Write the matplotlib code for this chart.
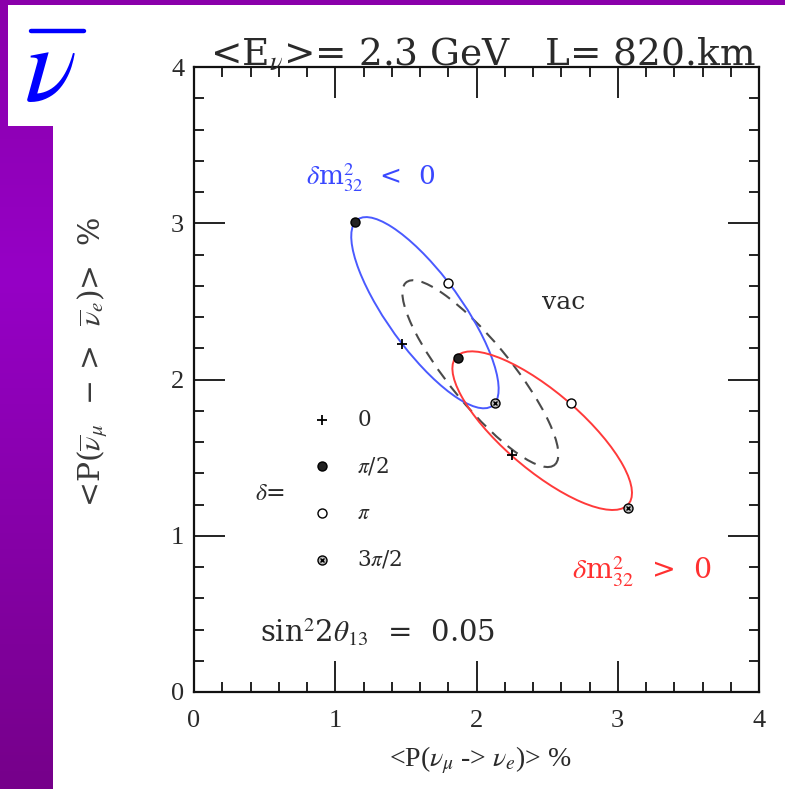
import numpy as np
import matplotlib
matplotlib.use('Agg')
import matplotlib.pyplot as plt
import matplotlib.ticker as mticker
from matplotlib.colors import LinearSegmentedColormap
from matplotlib.patches import Rectangle, Circle
from matplotlib.transforms import Affine2D
from matplotlib.lines import Line2D

plt.rcParams['font.family'] = ['Liberation Serif', 'DejaVu Serif']
plt.rcParams['mathtext.fontset'] = 'stix'

# CP-phase points on each trajectory, in the order delta = 0, pi/2, pi, 3pi/2
blue_x = [1.47, 1.14, 1.80, 2.13]
blue_y = [2.23, 3.01, 2.62, 1.85]
red_x = [2.25, 1.87, 2.67, 3.07]
red_y = [1.52, 2.14, 1.85, 1.18]
vac_x = [1.87, 1.50, 2.18, 2.56]
vac_y = [1.89, 2.62, 2.18, 1.46]

delta_labels = ['0', r'$\pi$/2', r'$\pi$', r'3$\pi$/2']
key_x = 0.906
key_y = [1.74, 1.446, 1.146, 0.845]

TXT = '#2a2a2a'
WIDE = 'DejaVu Serif'


def draw_marker(ax, x, y, i, ms=6.5, z=5):
    if i == 0:
        ax.plot(x, y, '+', color='k', ms=ms + 1, mew=1.3, zorder=z)
    elif i == 1:
        ax.plot(x, y, 'o', color='k', mfc='#222222', ms=ms, mew=1.0, zorder=z)
    elif i == 2:
        ax.plot(x, y, 'o', color='k', mfc='white', ms=ms, mew=1.0, zorder=z)
    else:
        ax.plot(x, y, 'o', color='k', mfc='#bbbbbb', ms=ms, mew=1.0, zorder=z)
        ax.plot(x, y, 'x', color='k', ms=ms * 0.55, mew=1.0, zorder=z + 1)


def add_trajectory(ax, px, py, markers=True, **kw):
    # ellipse through the four points: unit circle mapped by conjugate half-diameters
    cx, cy = np.mean(px), np.mean(py)
    ax_, ay_ = (px[0] - px[2]) / 2, (py[0] - py[2]) / 2
    bx, by = (px[1] - px[3]) / 2, (py[1] - py[3]) / 2
    tr = Affine2D(np.array([[ax_, bx, cx], [ay_, by, cy], [0, 0, 1]])) + ax.transData
    ax.add_patch(Circle((0, 0), 1, transform=tr, fill=False, **kw))
    if markers:
        for i in range(4):
            draw_marker(ax, px[i], py[i], i)


fig = plt.figure(figsize=(7.85, 7.89), dpi=100)

# purple slide background with white panel
bg = fig.add_axes((0, 0, 1, 1), zorder=-10)
grad_cmap = LinearSegmentedColormap.from_list(
    'slide', [(0.0, '#76008a'), (0.65, '#9600c6'), (1.0, '#8a00aa')])
bg.imshow(np.linspace(0, 1, 256).reshape(-1, 1), cmap=grad_cmap, aspect='auto',
          extent=(0, 1, 0, 1), origin='lower')
bg.add_patch(Rectangle((8 / 785, 663 / 789), 1, (126 - 5) / 789, color='white', lw=0))
bg.add_patch(Rectangle((53 / 785, 0), 1, 663 / 789, color='white', lw=0))
bg.set_xlim(0, 1)
bg.set_ylim(0, 1)
bg.axis('off')

# nu-bar symbol in the corner
fig.text(24 / 785, 1 - 100 / 789, r'$\nu$', color='#0000ff', fontsize=78,
         ha='left', va='baseline')
fig.add_artist(Line2D([31 / 785, 84 / 785], [1 - 31 / 789] * 2, transform=fig.transFigure,
                      lw=3.2, color='#0000ff', solid_capstyle='round'))

ax = fig.add_axes((194 / 785, 97 / 789, 565 / 785, 625 / 789))
ax.set_xlim(0, 4)
ax.set_ylim(0, 4)

for s in ax.spines.values():
    s.set_linewidth(1.6)
    s.set_color('#111111')

ax.xaxis.set_major_locator(mticker.MultipleLocator(1))
ax.yaxis.set_major_locator(mticker.MultipleLocator(1))
ax.xaxis.set_minor_locator(mticker.MultipleLocator(0.2))
ax.yaxis.set_minor_locator(mticker.MultipleLocator(0.2))
ax.tick_params(which='both', direction='in', top=True, right=True, color='#222222')
ax.tick_params(which='major', length=22, width=1.4, labelsize=19, labelcolor=TXT,
               labelfontfamily='Liberation Serif')
ax.tick_params(which='minor', length=7, width=1.4)
ax.tick_params(axis='x', which='major', pad=13)
ax.tick_params(axis='y', which='major', pad=7)

ax.set_xlabel(r'<P($\nu_\mu$ -> $\nu_e$)> %', fontsize=20, color=TXT, va='center')
ax.xaxis.set_label_coords(0.506, -0.109)
ax.set_ylabel('<P($\\overline{\\nu}_\\mu$  \u2212 >  $\\overline{\\nu}_e$)>  %', fontsize=21.5,
              color='#3a3a3a', va='center', family=WIDE)
ax.yaxis.set_label_coords(-0.179, 0.528)

ax.text(0.512, 1.004, r'<E$_\nu$>= 2.3 GeV   L= 820.km', transform=ax.transAxes,
        fontsize=27, color=TXT, ha='center', va='baseline', family=WIDE)

# trajectories
add_trajectory(ax, vac_x, vac_y, markers=False, edgecolor='#4a4a4a', lw=1.5,
               linestyle=(0, (6, 4)), zorder=2)
add_trajectory(ax, blue_x, blue_y, edgecolor='#4a5aff', lw=1.4, zorder=3)
add_trajectory(ax, red_x, red_y, edgecolor='#ff3a3a', lw=1.4, zorder=3)

ax.text(1.25, 3.29, r'$\delta$m$^2_{32}$  <  0', color='#3a48ff', fontsize=19,
        ha='center', va='center', family=WIDE)
ax.text(3.17, 0.77, r'$\delta$m$^2_{32}$  >  0', color='#ff3030', fontsize=20.5,
        ha='center', va='center', family=WIDE)
ax.text(2.62, 2.49, 'vac', color=TXT, fontsize=18, ha='center', va='center', family=WIDE)
ax.text(1.30, 0.38, r'sin$^2$2$\theta_{13}$  =  0.05', color=TXT, fontsize=21,
        ha='center', va='center', family=WIDE)

# delta key
ax.text(0.43, 1.27, r'$\delta$=', color=TXT, fontsize=17, ha='left', va='center',
        family=WIDE)
for i, (yy, lab) in enumerate(zip(key_y, delta_labels)):
    draw_marker(ax, key_x, yy, i)
    ax.text(1.155, yy, lab, color=TXT, fontsize=15.5, ha='left', va='center', family=WIDE)

fig.savefig('out.png', dpi=100)
